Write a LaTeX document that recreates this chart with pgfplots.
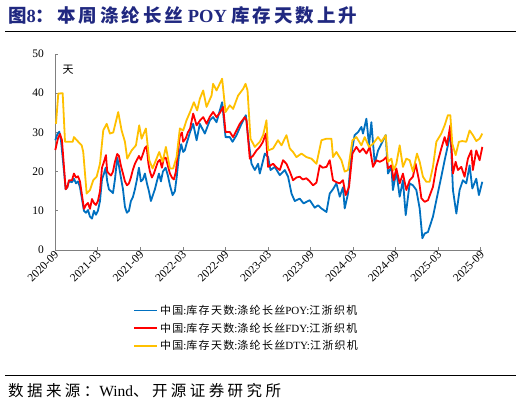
\documentclass[border=0pt]{standalone}
\usepackage{fontspec}
\setmainfont{Liberation Serif}
\newfontfamily\cjk[LetterSpace=12]{Noto Sans CJK SC}
\newfontfamily\cjkt[LetterSpace=16]{Noto Sans CJK SC}
\newfontfamily\cjks[LetterSpace=22]{Noto Sans CJK SC}
\usepackage{pgfplots}
\pgfplotsset{compat=1.18}

\definecolor{poy}{RGB}{0,112,192}
\definecolor{fdy}{RGB}{255,0,0}
\definecolor{dty}{RGB}{255,192,0}
\definecolor{titleblue}{RGB}{32,40,128}
\definecolor{axgray}{RGB}{128,128,128}

\newcommand{\legtext}[1]{{\cjk 中国}:{\cjk 库存天数}:{\cjk 涤纶长丝}#1:{\cjk 江浙织机}}

\begin{document}
\begin{tikzpicture}
\path[use as bounding box] (0,0) rectangle (521pt,-405pt);

% title and rules
\node[anchor=west, inner sep=0pt, text=titleblue, font=\fontsize{18.5}{22}\selectfont\bfseries]
  at (8pt,-15pt) {{\cjkt 图}8{\cjkt ：本周涤纶长丝} POY {\cjkt 库存天数上升}};
\draw[line width=1.2pt] (5pt,-31.5pt) -- (516pt,-31.5pt);
\draw[line width=0.8pt] (5pt,-375pt) -- (516pt,-375pt);
\node[anchor=west, inner sep=0pt, font=\fontsize{15.5}{18}\selectfont]
  at (8pt,-391pt) {{\cjks 数据来源：}Wind{\cjks 、开源证券研究所}};

\begin{axis}[
  at={(55.3pt,-250pt)}, anchor=south west,
  scale only axis,
  width=427pt, height=196pt,
  xmin=0, xmax=60.2,
  ymin=0, ymax=50,
  axis x line*=bottom, axis y line*=left,
  axis line style={axgray, line width=0.8pt},
  tick align=inside,
  major tick length=3pt,
  tick style={axgray, line width=0.8pt},
  xtick={0,6,...,60},
  xticklabels={2020-09,2021-03,2021-09,2022-03,2022-09,2023-03,2023-09,2024-03,2024-09,2025-03,2025-09},
  ytick={0,10,...,50},
  /pgf/number format/assume math mode=true,
  ticklabel style={font=\fontsize{11.5}{13}\selectfont},
  xticklabel style={rotate=45, anchor=east, inner sep=1pt, yshift=-3pt},
  yticklabel style={xshift=-8pt},
  legend style={at={(0.182,-0.27)}, anchor=north west, draw=none, fill=none,
    font=\fontsize{11}{12}\selectfont, row sep=3pt, inner sep=0pt},
  legend cell align=left,
  legend image code/.code={\draw[#1] (0pt,0pt) -- (23pt,0pt);},
  every axis plot/.append style={line width=1.8pt, line join=round},
  clip=false,
]
\addplot[poy] coordinates {
(0,28)(0.28,29.5)(0.56,30.2)(0.8,28)(1.23,20)(1.46,15.5)(1.69,16)(1.93,17.5)(2.35,17.3)(2.63,18.2)(2.92,17)(3.2,17.5)(3.48,16)(3.76,13)(4.04,10)(4.32,9.5)(4.61,10.2)(4.89,8.5)(5.17,8)(5.45,10)(5.73,9)(6.01,10)(6.3,12.5)(6.58,18)(6.86,19.5)(7.1,21)(7.32,17.5)(7.56,15.5)(7.85,15)(8.13,14.5)(8.41,18)(8.73,23.5)(8.97,21.5)(9.25,18.5)(9.54,15.5)(9.82,11)(10.1,9.5)(10.38,10)(10.66,12.5)(10.94,13.5)(11.23,15.5)(11.51,18)(11.79,21)(12.07,17.5)(12.35,18)(12.63,19.5)(12.92,17)(13.2,15)(13.48,12.5)(13.76,14)(14.04,15.5)(14.32,17.5)(14.61,19.5)(14.89,17.5)(15.17,20)(15.55,21)(15.87,19)(16.16,16.5)(16.54,14)(16.86,15)(17.14,19)(17.42,24)(17.75,27)(18.03,25)(18.27,25.5)(18.5,27.1)(19.0,30.1)(19.44,32.2)(19.92,28)(20.38,32.2)(21.08,29.7)(21.79,33.1)(22.25,33.9)(22.73,32.6)(23.52,37.7)(24.0,28.8)(24.6,28.8)(24.99,27.6)(25.55,29.3)(26.25,32.2)(26.86,34.4)(27.18,28.8)(27.66,22)(28.13,20.4)(28.59,22)(28.83,19.5)(29.54,24.6)(30.0,23.7)(30.34,20.4)(30.94,21.2)(31.65,19.1)(32.35,20.4)(32.82,18.7)(33.3,14.4)(33.76,12.5)(34.46,13.1)(35.0,11.9)(35.87,12.7)(36.58,10.8)(37.04,11.4)(37.52,10.6)(38.23,9.7)(38.69,14.4)(39.15,15.5)(39.63,17)(40.1,13.6)(40.56,16)(40.8,10.6)(41.27,14.4)(41.75,24.6)(42.2,29.3)(42.7,30.1)(43.15,31.4)(43.38,29.7)(43.86,33.5)(44.23,26.7)(44.56,32.6)(45.03,22)(45.5,25.4)(45.97,27.1)(46.58,29.3)(46.9,19.5)(47.38,21.2)(47.6,15.3)(48.08,20)(48.55,13.6)(49.01,17.8)(49.4,8.9)(49.96,17)(50.42,16.5)(50.9,15.3)(51.37,10.6)(51.75,3)(52.07,4.2)(52.54,4.6)(53.24,8.5)(53.72,12.7)(54.42,18.7)(54.89,22.9)(55.35,26.7)(55.73,29.7)(56.06,15.3)(56.54,9.3)(57.0,15.3)(57.46,17.8)(57.94,17)(58.41,21.6)(58.79,15.7)(59.35,18.2)(59.72,14)(60.2,17.4)
};
\addlegendentry{\legtext{POY}}
\addplot[fdy] coordinates {
(0,25.5)(0.38,28.5)(0.66,29.6)(0.94,28)(1.23,21)(1.46,15.5)(1.69,16)(1.93,17.8)(2.35,17.8)(2.63,19.5)(2.92,18.5)(3.2,18.8)(3.48,17.5)(3.76,14)(4.04,10.5)(4.32,11.5)(4.61,12)(4.89,10.5)(5.17,13)(5.45,12)(5.73,11.5)(6.01,12.5)(6.3,15)(6.58,21)(6.86,22.5)(7.14,24.2)(7.32,20)(7.56,19.5)(7.85,19)(8.13,20)(8.41,22.5)(8.73,24.5)(8.97,24)(9.25,21.5)(9.54,19.5)(9.82,17.5)(10.1,16.5)(10.38,17)(10.66,18.5)(10.94,20.5)(11.23,22)(11.51,23)(11.79,24)(12.07,23)(12.35,24.5)(12.63,26)(12.87,26.5)(13.13,22)(13.34,20)(13.62,18.5)(13.9,19.5)(14.18,21)(14.46,22.5)(14.75,23)(15.03,21)(15.31,23.5)(15.59,23.5)(15.87,21.5)(16.16,19.5)(16.44,18.5)(16.72,18)(17.0,20)(17.28,25)(17.56,29)(17.85,30)(18.03,27.6)(18.4,28.5)(18.69,30)(19.0,31)(19.44,34.8)(19.92,31.8)(20.38,33)(20.85,33.9)(21.32,32.2)(21.79,34)(22.25,35.2)(22.73,33.9)(23.2,35)(23.66,36.5)(24.0,30.1)(24.6,30.1)(25.07,28.8)(25.55,30.5)(26.01,32.2)(26.72,33.9)(26.96,33.1)(27.42,23.3)(27.85,24)(28.37,25.4)(28.83,26.3)(29.25,27.5)(29.68,29.7)(30.0,21.2)(30.7,22)(31.23,21)(31.65,20.4)(32.11,22.9)(32.59,22)(33.06,20)(33.52,17.8)(34.0,18.5)(34.46,18.7)(34.89,18)(35.41,18.3)(35.87,17.5)(36.34,16.5)(36.82,17.2)(37.28,21.6)(37.7,21)(38.23,21.2)(38.69,22.9)(39.15,17.8)(39.63,17.3)(40.1,17)(40.56,17.8)(40.94,14)(41.41,16.1)(41.89,24.6)(42.45,26.3)(42.92,25)(43.38,25.9)(43.86,24.6)(44.32,26.3)(44.79,21.2)(45.27,22.9)(45.73,22.5)(46.2,22.9)(46.68,23.7)(46.9,20.8)(47.38,21.6)(47.7,17.8)(48.08,20.8)(48.55,17)(49.01,19.5)(49.49,15.3)(49.96,17.8)(50.42,18.7)(50.8,22)(51.27,17.8)(51.61,13.2)(52.07,12.3)(52.54,12.7)(53.24,16.1)(53.72,21.2)(54.42,25.9)(54.89,28.8)(55.21,26.7)(55.69,31.8)(56.06,19.5)(56.44,22.5)(56.76,20.4)(57.24,21.2)(57.7,18.7)(58.17,23.3)(58.65,25.4)(58.87,20.4)(59.35,25.4)(59.82,22.9)(60.2,26.3)
};
\addlegendentry{\legtext{FDY}}
\addplot[dty] coordinates {
(0.1,32.2)(0.42,39.9)(1.04,40)(1.37,27.6)(2.45,27.6)(2.63,28.8)(3.24,27.6)(3.72,26.7)(3.94,25)(4.42,14.4)(4.89,15.3)(5.35,17.8)(5.83,18.7)(6.3,22)(6.76,30.5)(7.24,32.2)(7.7,29.7)(8.17,30)(8.87,35.2)(9.35,30.5)(9.82,27.6)(10.14,23.3)(10.76,25.4)(11.37,26.7)(11.83,31.8)(12.17,28.4)(12.77,31)(13.24,22.9)(13.72,20.8)(14.18,22.9)(14.65,25)(15.13,22.5)(15.59,26.3)(16.16,20.8)(16.62,20.8)(17.1,23.7)(17.56,31)(18.03,30.5)(18.5,33.1)(19.0,35.2)(19.54,37.7)(20.0,35.6)(20.38,38.6)(20.85,40.7)(21.32,36.5)(22.03,39.4)(22.25,42.4)(22.73,40.7)(23.52,43.7)(24.0,35.2)(24.6,36.9)(25.07,36)(25.77,39.4)(26.48,41.1)(26.82,42.4)(27.1,40.7)(27.52,28.4)(28.13,26.3)(28.83,27.6)(29.3,29.3)(29.77,33.1)(30.0,25.4)(30.7,25.9)(31.4,28)(31.89,26.7)(32.59,29.3)(33.06,25.9)(33.52,25)(34.0,23.7)(34.7,24.6)(35.41,23.7)(36.11,23.3)(36.82,22)(37.52,28)(38.23,28.4)(38.93,28.4)(39.15,23.7)(39.63,25)(40.34,22.9)(40.8,20)(41.27,20.4)(41.89,28)(42.45,28.8)(43.15,26.7)(43.62,28.8)(44.23,26.3)(44.79,27.1)(45.5,28.8)(45.97,27.6)(46.58,29.3)(46.9,22.5)(47.38,23.3)(47.7,20.4)(48.08,22)(48.55,26.7)(49.01,21.2)(49.49,23.3)(49.96,22.9)(50.42,20)(50.99,24.6)(51.37,22.5)(51.83,18.7)(52.31,17.4)(52.77,17.4)(53.24,21.2)(53.72,27.6)(54.42,29.7)(54.89,31.8)(55.35,34.4)(55.69,34.4)(55.97,27.1)(56.44,24.2)(56.9,27.6)(57.38,27.8)(57.94,27.6)(58.41,30.5)(58.87,29.3)(59.35,27.8)(59.82,28.4)(60.2,29.7)
};
\addlegendentry{\legtext{DTY}}
\node[font=\fontsize{11}{12}\selectfont] at (rel axis cs:0.03,0.918) {\cjk 天};
\end{axis}
\end{tikzpicture}
\end{document}
